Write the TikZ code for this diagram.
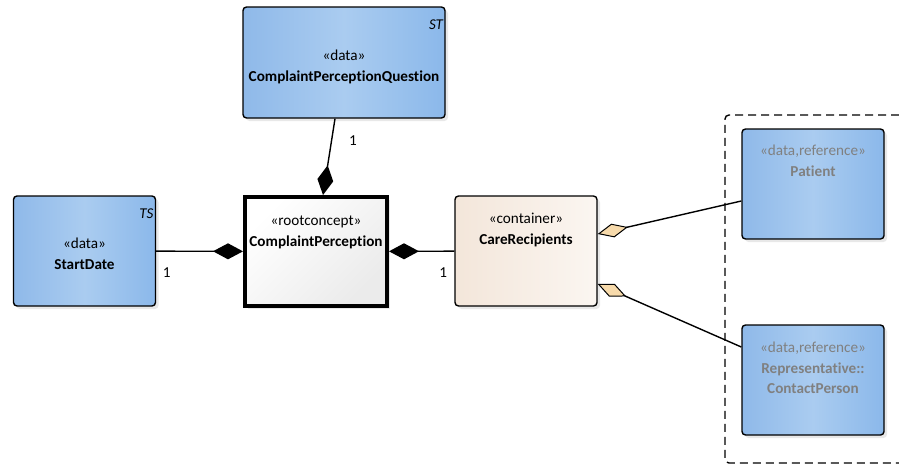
\documentclass[tikz,border=0pt]{standalone}
\usepackage{fontspec}
\setmainfont{Carlito}[Ligatures=NoCommon]
\usetikzlibrary{arrows.meta,shadows}
\definecolor{dataleft}{HTML}{8FB9E9}
\definecolor{datamid}{HTML}{AACCF0}
\definecolor{dataright}{HTML}{8BB8EA}
\definecolor{recipleft}{HTML}{F3E6DA}
\definecolor{recipright}{HTML}{FBF6F1}
\definecolor{aggfill}{HTML}{F7DAAB}
\definecolor{reftext}{HTML}{808080}
\tikzset{every picture/.style={x=1pt, y=-1pt, line width=1.4pt}}
\tikzset{every node/.style={font=\fontsize{15.2}{20.5}\selectfont}}
\tikzset{
  umlbox/.style={draw, rounded corners=3.5pt, minimum width=142, minimum height=110,
    drop shadow={shadow xshift=3pt, shadow yshift=-3pt, fill=black!18}},
  databox/.style={umlbox, left color=dataleft, right color=dataright, middle color=datamid},
  head/.style={anchor=north, align=center, yshift=-#1},
  tag/.style={anchor=north east, inner sep=2pt, yshift=-11pt, font=\fontsize{15}{16}\selectfont\itshape},
  comp/.style={-{Diamond[length=30pt, width=16pt]}},
  agg/.style={-{Diamond[length=31pt, width=14pt, fill=aggfill, line width=1pt]}},
  one/.style={inner sep=1pt}
}

\begin{document}
\begin{tikzpicture}
\useasboundingbox (0,0) rectangle (899,466);
% boundary round the referenced classes
\draw[dash pattern=on 8pt off 5pt, rounded corners=4pt] (899,115) -- (725,115) -- (725,463) -- (899,463);

\node[databox, minimum width=202, minimum height=111,
  label={[tag]north east:ST},
  label={[head=40pt]north:«data»\\\textbf{ComplaintPerceptionQuestion}}] (question) at (344,62.5) {};
\node[databox,
  label={[tag]north east:TS},
  label={[head=39pt]north:«data»\\\textbf{StartDate}}] (startdate) at (84.5,251) {};
\node[draw, line width=4pt, minimum width=142, minimum height=109,
  top color=white, bottom color=black!8, shading angle=45,
  drop shadow={shadow xshift=3pt, shadow yshift=-3pt, fill=black!18},
  label={[head=17pt]north:«rootconcept»\\\textbf{ComplaintPerception}}] (perception) at (316,251.5) {};
\node[umlbox, left color=recipleft, right color=recipright,
  label={[head=14pt]north:«container»\\\textbf{CareRecipients}}] (recipients) at (526,251) {};
\node[databox,
  label={[head=13pt, text=reftext]north:«data,reference»\\\textbf{Patient}}] (patient) at (813,184) {};
\node[databox,
  label={[head=14pt, text=reftext]north:«data,reference»\\\textbf{Representative::}\\\textbf{ContactPerson}}] (contact) at (813,380) {};

\draw[comp] ([xshift=-9pt]question.south) -- ([xshift=7pt]perception.north)
  node[pos=.29, right=16pt, one] {1};
\draw[comp] (startdate) -- (perception)
  node[pos=0, anchor=north west, xshift=5pt, yshift=-15pt, one] {1};
\draw[comp] (recipients) -- (perception)
  node[pos=0, anchor=north east, xshift=-5.5pt, yshift=-15pt, one] {1};
\draw[agg] ([yshift=-17pt]patient.west) -- ([yshift=17pt]recipients.east);
\draw[agg] ([yshift=33pt]contact.west) -- ([yshift=-33pt]recipients.east);
\end{tikzpicture}
\end{document}
